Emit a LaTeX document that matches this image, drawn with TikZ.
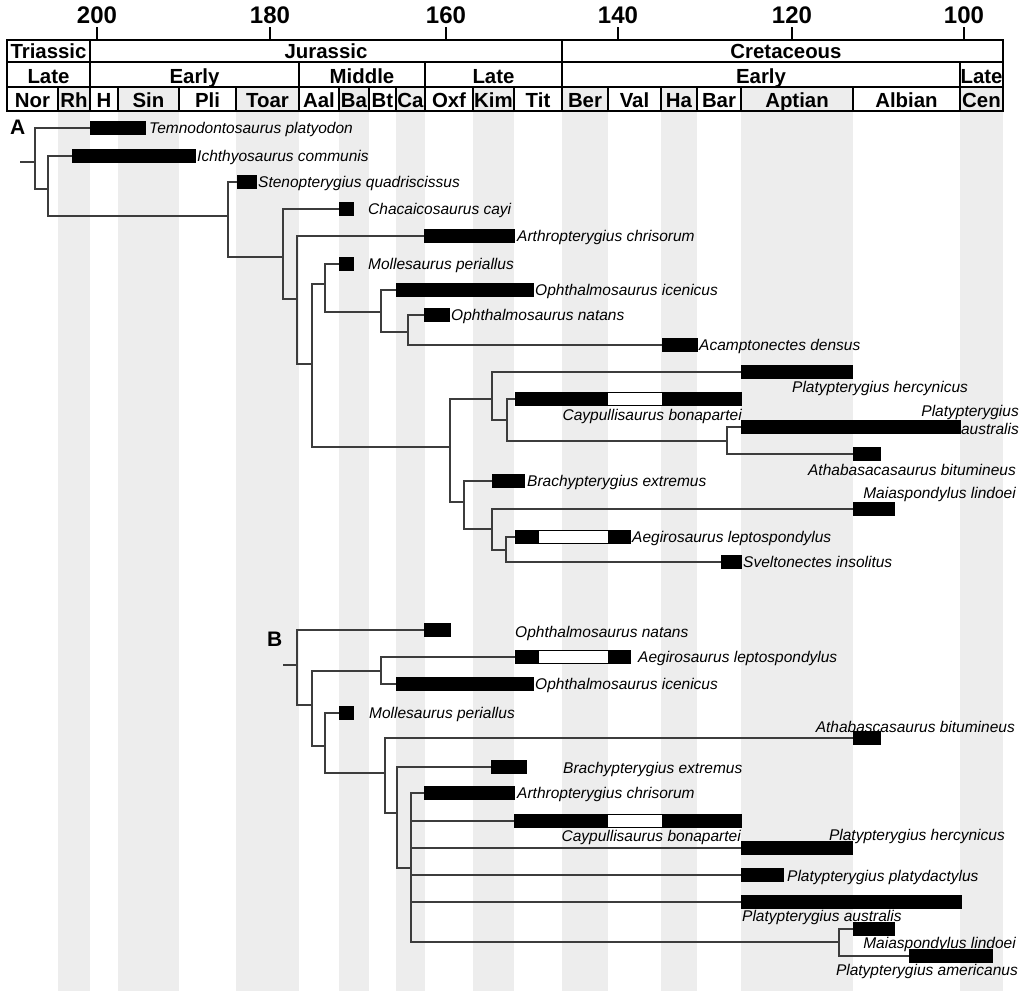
\documentclass[tikz,border=0pt]{standalone}
\usepackage{fontspec}
\setmainfont{Liberation Sans}
\definecolor{stripe}{RGB}{237,237,237}
\definecolor{branchc}{RGB}{60,60,60}
\tikzset{
  hdr/.style={anchor=base, inner sep=0pt, font=\fontsize{20.4}{22}\selectfont\bfseries},
  num/.style={anchor=base, inner sep=0pt, font=\fontsize{24}{26}\selectfont\bfseries},
  panel/.style={anchor=base west, inner sep=0pt, font=\fontsize{21}{23}\selectfont\bfseries},
  lab/.style={anchor=base west, inner sep=0pt, font=\fontsize{15.5}{18}\selectfont\itshape},
  labr/.style={lab, anchor=base east},
  bar/.style={fill=black, draw=black, line width=0.5pt, minimum height=13pt, inner sep=0pt, outer sep=0pt, anchor=west},
  gapbar/.style={bar, fill=white},
  branch/.style={draw=branchc, line width=1.1pt},
  grid/.style={line width=2pt, black},
}
\begin{document}
\begin{tikzpicture}[x=1pt,y=-1pt]
\useasboundingbox (0,0) rectangle (1024,996);
% stripes
\foreach \a/\b in {58/90,118/179,236/299,339/369,396/425,473/514,562/608,661/697,741/853,960/1003}
  \fill[stripe] (\a,87) rectangle (\b,991);
% header grid
\draw[grid] (7,40) rectangle (1003,111);
\draw[grid] (7,62) -- (1003,62);
\draw[grid] (7,87) -- (1003,87);
\foreach \x in {90,562} \draw[grid] (\x,40) -- (\x,62);
\foreach \x in {90,299,425,562,960} \draw[grid] (\x,62) -- (\x,87);
\foreach \x in {58,90,118,179,236,299,339,369,396,425,473,514,562,608,661,697,741,853,960}
  \draw[grid] (\x,87) -- (\x,111);
% ticks and numbers
\foreach \x/\t in {97/200,270/180,446/160,618/140,792/120,964/100}{
  \draw[grid] (\x,27) -- (\x,40);
  \node[num] (t\t) at (\x,23) {\t};
}
% header texts
\node[hdr] (hTri) at (48.5,58.5) {Triassic};
\node[hdr] (hJur) at (326,58.5) {Jurassic};
\node[hdr] (hCre) at (786,58.5) {Cretaceous};
\node[hdr] (hTL) at (48.5,83) {Late};
\node[hdr] (hJE) at (194.5,83) {Early};
\node[hdr] (hJM) at (362,83) {Middle};
\node[hdr] (hJL) at (493.5,83) {Late};
\node[hdr] (hKE) at (761,83) {Early};
\node[hdr] (hKL) at (981.5,83) {Late};
\foreach \a/\b/\s in {7/58/Nor,58/90/Rh,90/118/H,118/179/Sin,179/236/Pli,236/299/Toar,299/339/Aal,339/369/Ba,369/396/Bt,396/425/Ca,425/473/Oxf,473/514/Kim,514/562/Tit,562/608/Ber,608/661/Val,661/697/Ha,697/741/Bar,741/853/Aptian,853/960/Albian,960/1003/Cen}
  \node[hdr] (s\s) at ({(\a+\b)/2},107.5) {\s};

% ================= Tree A =================
\node[panel] (pA) at (10,134) {A};
% bars
\node[bar, minimum width=55pt] (temno) at (90,128) {};
\node[bar, minimum width=123pt] (ichthyo) at (72,156) {};
\node[bar, minimum width=19pt] (steno) at (237,182) {};
\node[bar, minimum width=14pt] (chacai) at (339,209) {};
\node[bar, minimum width=90pt] (arthroA) at (424,236) {};
\node[bar, minimum width=14pt] (molleA) at (339,264) {};
\node[bar, minimum width=137pt] (icenA) at (396,290) {};
\node[bar, minimum width=25pt] (natansA) at (424,315) {};
\node[bar, minimum width=35pt] (acamp) at (662,345) {};
\node[bar, minimum width=111pt] (hercA) at (741,372) {};
\node[gapbar, minimum width=226pt] (cayA) at (515,399) {};
\fill (515,392.5) rectangle (608,405.5);
\fill (662,392.5) rectangle (741,405.5);
\node[bar, minimum width=219pt] (austA) at (741,427) {};
\node[bar, minimum width=27pt] (athabA) at (853,454) {};
\node[bar, minimum width=32pt] (brachyA) at (492,481) {};
\node[bar, minimum width=41pt] (maiaA) at (853,509) {};
\node[gapbar, minimum width=115pt] (aegiroA) at (515,537) {};
\fill (515,530.5) rectangle (539,543.5);
\fill (608,530.5) rectangle (630,543.5);
\node[bar, minimum width=20pt] (svelto) at (721,562) {};
% labels
\node[lab] (lTemno) at (149,133.5) {Temnodontosaurus platyodon};
\node[lab] (lIchthyo) at (197,161.5) {Ichthyosaurus communis};
\node[lab] (lSteno) at (258,187.5) {Stenopterygius quadriscissus};
\node[lab] (lChacai) at (368,214.5) {Chacaicosaurus cayi};
\node[lab] (lArthroA) at (517,241.5) {Arthropterygius chrisorum};
\node[lab] (lMolleA) at (368,269.5) {Mollesaurus periallus};
\node[lab] (lIcenA) at (535,295.5) {Ophthalmosaurus icenicus};
\node[lab] (lNatansA) at (451,320.5) {Ophthalmosaurus natans};
\node[lab] (lAcamp) at (699,350.5) {Acamptonectes densus};
\node[lab] (lHercA) at (792,392.5) {Platypterygius hercynicus};
\node[labr] (lCayA) at (742,420.5) {Caypullisaurus bonapartei};
\node[labr] (lAustA1) at (1019,416.5) {Platypterygius};
\node[labr] (lAustA2) at (1019,434.5) {australis};
\node[labr] (lAthabA) at (1016,475.5) {Athabasacasaurus bitumineus};
\node[lab] (lBrachyA) at (527,486.5) {Brachypterygius extremus};
\node[labr] (lMaiaA) at (1016,498.5) {Maiaspondylus lindoei};
\node[lab] (lAegiroA) at (632,542.5) {Aegirosaurus leptospondylus};
\node[lab] (lSvelto) at (743,567.5) {Sveltonectes insolitus};
% internal nodes
\coordinate (stubA) at (20,162);
\coordinate (rA) at (35,162);
\coordinate (a2) at (48,189);
\coordinate (a3) at (228,216);
\coordinate (a4) at (283,257);
\coordinate (a5) at (297,299);
\coordinate (a6) at (312,364);
\coordinate (a7) at (325,284);
\coordinate (a8) at (381,312);
\coordinate (a9) at (408,332);
\coordinate (a10) at (450,447);
\coordinate (a11) at (492,399);
\coordinate (a12) at (507,420);
\coordinate (a13) at (727,441);
\coordinate (a15) at (464,502);
\coordinate (a16) at (492,529);
\coordinate (a17) at (506,550);
% branches
\draw[branch] (stubA) -- (rA);
\draw[branch] (rA) |- (temno.west);
\draw[branch] (rA) |- (a2);
\draw[branch] (a2) |- (ichthyo.west);
\draw[branch] (a2) |- (a3);
\draw[branch] (a3) |- (steno.west);
\draw[branch] (a3) |- (a4);
\draw[branch] (a4) |- (chacai.west);
\draw[branch] (a4) |- (a5);
\draw[branch] (a5) |- (arthroA.west);
\draw[branch] (a5) |- (a6);
\draw[branch] (a6) |- (a7);
\draw[branch] (a6) |- (a10);
\draw[branch] (a7) |- (molleA.west);
\draw[branch] (a7) |- (a8);
\draw[branch] (a8) |- (icenA.west);
\draw[branch] (a8) |- (a9);
\draw[branch] (a9) |- (natansA.west);
\draw[branch] (a9) |- (acamp.west);
\draw[branch] (a10) |- (a11);
\draw[branch] (a10) |- (a15);
\draw[branch] (a11) |- (hercA.west);
\draw[branch] (a11) |- (a12);
\draw[branch] (a12) |- (cayA.west);
\draw[branch] (a12) |- (a13);
\draw[branch] (a13) |- (austA.west);
\draw[branch] (a13) |- (athabA.west);
\draw[branch] (a15) |- (brachyA.west);
\draw[branch] (a15) |- (a16);
\draw[branch] (a16) |- (maiaA.west);
\draw[branch] (a16) |- (a17);
\draw[branch] (a17) |- (aegiroA.west);
\draw[branch] (a17) |- (svelto.west);

% ================= Tree B =================
\node[panel] (pB) at (267,646) {B};
\node[bar, minimum width=26pt] (natansB) at (424,630) {};
\node[gapbar, minimum width=115pt] (aegiroB) at (515,657) {};
\fill (515,650.5) rectangle (539,663.5);
\fill (608,650.5) rectangle (630,663.5);
\node[bar, minimum width=137pt] (icenB) at (396,684) {};
\node[bar, minimum width=14pt] (molleB) at (339,713) {};
\node[bar, minimum width=27pt] (athabB) at (853,738) {};
\node[bar, minimum width=35pt] (brachyB) at (491,767) {};
\node[bar, minimum width=90pt] (arthroB) at (424,793) {};
\node[gapbar, minimum width=227pt] (cayB) at (514,821) {};
\fill (514,814.5) rectangle (608,827.5);
\fill (662,814.5) rectangle (741,827.5);
\node[bar, minimum width=111pt] (hercB) at (741,848) {};
\node[bar, minimum width=42pt] (platyB) at (741,875) {};
\node[bar, minimum width=220pt] (austB) at (741,902) {};
\node[bar, minimum width=41pt] (maiaB) at (853,929) {};
\node[bar, minimum width=83pt] (amer) at (909,956) {};
% labels
\node[lab] (lNatansB) at (515,637.5) {Ophthalmosaurus natans};
\node[lab] (lAegiroB) at (638,662.5) {Aegirosaurus leptospondylus};
\node[lab] (lIcenB) at (535,689.5) {Ophthalmosaurus icenicus};
\node[lab] (lMolleB) at (369,718.5) {Mollesaurus periallus};
\node[labr] (lAthabB) at (1015,732.5) {Athabascasaurus bitumineus};
\node[lab] (lBrachyB) at (563,773) {Brachypterygius extremus};
\node[lab] (lArthroB) at (517,798.5) {Arthropterygius chrisorum};
\node[labr] (lCayB) at (741,841.5) {Caypullisaurus bonapartei};
\node[labr] (lHercB) at (1005,840.5) {Platypterygius hercynicus};
\node[lab] (lPlatyB) at (787,881.5) {Platypterygius platydactylus};
\node[lab] (lAustB) at (742,921.5) {Platypterygius australis};
\node[labr] (lMaiaB) at (1016,948.5) {Maiaspondylus lindoei};
\node[labr] (lAmer) at (1018,975.5) {Platypterygius americanus};
% internal nodes
\coordinate (stubB) at (283,665);
\coordinate (rB) at (297,665);
\coordinate (b2) at (312,705);
\coordinate (b3) at (381,671);
\coordinate (b4) at (325,746);
\coordinate (b5) at (385,773);
\coordinate (b6) at (397,813);
\coordinate (b7) at (411,868);
\coordinate (b8) at (839,942);
% branches
\draw[branch] (stubB) -- (rB);
\draw[branch] (rB) |- (natansB.west);
\draw[branch] (rB) |- (b2);
\draw[branch] (b2) |- (b3);
\draw[branch] (b2) |- (b4);
\draw[branch] (b3) |- (aegiroB.west);
\draw[branch] (b3) |- (icenB.west);
\draw[branch] (b4) |- (molleB.west);
\draw[branch] (b4) |- (b5);
\draw[branch] (b5) |- (athabB.west);
\draw[branch] (b5) |- (b6);
\draw[branch] (b6) |- (brachyB.west);
\draw[branch] (b6) |- (b7);
\draw[branch] (b7) |- (arthroB.west);
\draw[branch] (b7) |- (cayB.west);
\draw[branch] (b7) |- (hercB.west);
\draw[branch] (b7) |- (platyB.west);
\draw[branch] (b7) |- (austB.west);
\draw[branch] (b7) |- (b8);
\draw[branch] (b8) |- (maiaB.west);
\draw[branch] (b8) |- (amer.west);
\end{tikzpicture}
\end{document}
